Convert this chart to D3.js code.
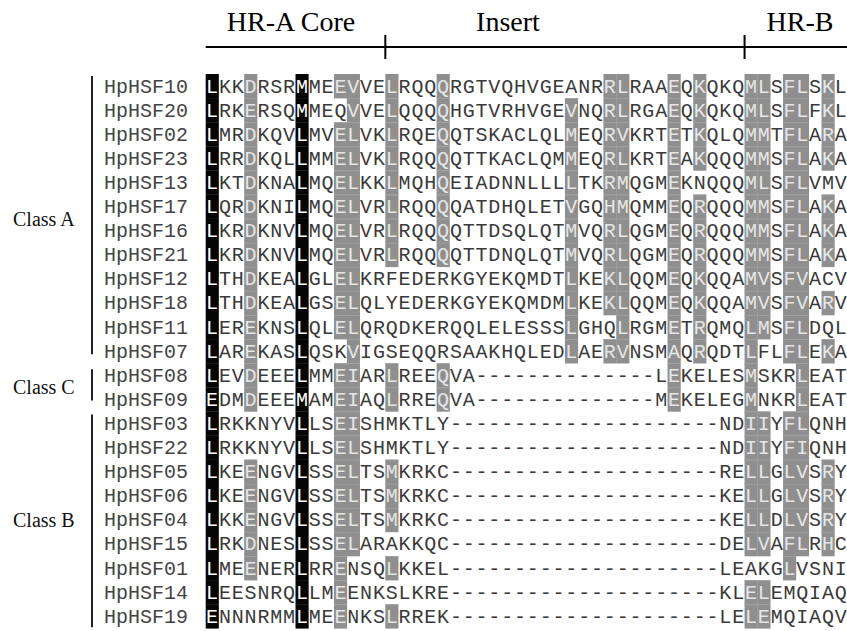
<!DOCTYPE html>
<html>
<head>
<meta charset="utf-8">
<script src="https://cdn.jsdelivr.net/npm/d3@7"></script>
<style>
  html, body { margin: 0; padding: 0; background: #fff; }
  svg { display: block; }
</style>
</head>
<body>
<svg id="chart" width="847" height="631"></svg>
<script>
// HSF sequence names, top to bottom
const names = [
  "HpHSF10","HpHSF20","HpHSF02","HpHSF23","HpHSF13","HpHSF17","HpHSF16","HpHSF21",
  "HpHSF12","HpHSF18","HpHSF11","HpHSF07",
  "HpHSF08","HpHSF09",
  "HpHSF03","HpHSF22","HpHSF05","HpHSF06","HpHSF04","HpHSF15","HpHSF01","HpHSF14","HpHSF19"
];

// Aligned residues (50 alignment columns each)
const sequences = [
  "LKKDRSRMMEEVVELRQQQRGTVQHVGEANRRLRAAEQKQKQMLSFLSKL",
  "LRKERSQMMEQVVELQQQQHGTVRHVGEVNQRLRGAEQKQKQMLSFLFKL",
  "LMRDKQVLMVELVKLRQEQQTSKACLQLMEQRVKRTETKQLQMMTFLARA",
  "LRRDKQLLMMELVKLRQQQQTTKACLQMMEQRLKRTEAKQQQMMSFLAKA",
  "LKTDKNALMQELKKLMQHQEIADNNLLLLTKRMQGMEKNQQQMLSFLVMV",
  "LQRDKNILMQELVRLRQQQQATDHQLETVGQHMQMMEQRQQQMMSFLAKA",
  "LKRDKNVLMQELVRLRQQQQTTDSQLQTMVQRLQGMEQRQQQMMSFLAKA",
  "LKRDKNVLMQELVRLRQQQQTTDNQLQTMVQRLQGMEQRQQQMMSFLAKA",
  "LTHDKEALGLELKRFEDERKGYEKQMDTLKEKLQQMEQKQQAMVSFVACV",
  "LTHDKEALGSELQLYEDERKGYEKQMDMLKEKLQQMEQKQQAMVSFVARV",
  "LEREKNSLQLELQRQDKERQQLELESSSLGHQLRGMETRQMQLMSFLDQL",
  "LAREKASLQSKVIGSEQQRSAAKHQLEDLAERVNSMAQRQDTLFLFLEKA",
  "LEVDEEELMMEIARLREEQVA--------------LEKELESMSKRLEAT",
  "EDMDEEEMAMEIAQLRREQVA--------------MEKELEGMNKRLEAT",
  "LRKKNYVLLSEISHMKTLY---------------------NDIIYFLQNH",
  "LRKKNYVLLSELSHMKTLY---------------------NDIIYFIQNH",
  "LKEENGVLSSELTSMKRKC---------------------RELLGLVSRY",
  "LKEENGVLSSELTSMKRKC---------------------KELLGLVSRY",
  "LKKENGVLSSELTSMKRKC---------------------KELLDLVSRY",
  "LRKDNESLSSELARAKKQC---------------------DELVAFLRHC",
  "LMEENERLRRENSQLKKEL---------------------LEAKGLVSNI",
  "LEESNRQLLMEENKSLKRE---------------------KLELEMQIAQ",
  "ENNNRMMLMEENKSLRREK---------------------LELEMQIAQV"
];

// Fully conserved alignment columns (black background)
const blackColumns = [1, 8];

// Per-sequence similarity columns (grey background)
const greyColumns = [
  [4,11,12,15,19,32,33,37,39,43,44,46,47,49],
  [4,12,15,19,29,32,33,37,39,43,44,46,47,49],
  [4,11,12,15,19,29,32,33,37,39,43,44,46,47,49],
  [4,11,12,15,19,29,32,33,37,39,43,44,46,47,49],
  [4,11,12,15,19,29,32,33,37,43,44,46,47],
  [4,11,12,15,19,29,32,33,37,39,43,44,46,47,49],
  [4,11,12,15,19,29,32,33,37,39,43,44,46,47,49],
  [4,11,12,15,19,29,32,33,37,39,43,44,46,47,49],
  [4,11,12,29,32,33,37,39,43,44,46,47],
  [4,11,12,29,32,33,37,39,43,44,46,47,49],
  [4,11,12,29,33,37,39,43,44,46,47],
  [4,12,29,32,33,37,39,43,46,47,49],
  [4,11,12,15,19,37,43,47],
  [4,11,12,15,19,37,43,47],
  [11,12,43,44,46,47],
  [11,12,43,44,46,47],
  [4,11,12,15,43,44,46,47,49],
  [4,11,12,15,43,44,46,47,49],
  [4,11,12,15,43,44,46,47,49],
  [4,11,12,43,44,46,47,49],
  [4,11,15,46],
  [11,43,44],
  [11,15,43,44]
];

// Subfamily groups: first and last member
const classes = [
  { label: "Class A", first: "HpHSF10", last: "HpHSF07" },
  { label: "Class C", first: "HpHSF08", last: "HpHSF09" },
  { label: "Class B", first: "HpHSF03", last: "HpHSF19" }
];

// Domain regions along the alignment (start column, label)
const regionLabels = ["HR-A Core", "Insert", "HR-B"];
const regionStarts = [1, 15, 43];

const nCols = 50;
const svg = d3.select("#chart");

const x = d3.scaleBand()
  .domain(d3.range(1, nCols + 1))
  .range([205.7, 205.7 + nCols * 12.83])
  .paddingInner(0).paddingOuter(0);

const y = d3.scaleBand()
  .domain(names)
  .range([74, 74 + names.length * 24.1])
  .padding(0);

const cw = x.bandwidth();
const rh = y.bandwidth();

// Build one record per cell
const cells = [];
names.forEach((name, i) => {
  const seq = sequences[i];
  const grey = new Set(greyColumns[i]);
  for (let c = 1; c <= nCols; c++) {
    const shade = blackColumns.includes(c) ? "black" : (grey.has(c) ? "grey" : "none");
    cells.push({ name, col: c, res: seq[c - 1], shade });
  }
});

// Background shading
svg.append("g").selectAll("rect")
  .data(cells.filter(d => d.shade !== "none"))
  .join("rect")
  .attr("x", d => x(d.col))
  .attr("y", d => y(d.name))
  .attr("width", cw + 0.3)
  .attr("height", rh + 0.3)
  .attr("fill", d => d.shade === "black" ? "#050505" : "#8f8f8f");

// Faint separators within shaded blocks
svg.append("g").selectAll("line")
  .data(cells.filter(d => d.shade === "grey" && d.name !== names[0]))
  .join("line")
  .attr("x1", d => x(d.col)).attr("x2", d => x(d.col) + cw)
  .attr("y1", d => y(d.name) + 0.5).attr("y2", d => y(d.name) + 0.5)
  .attr("stroke", "#a3a3a3").attr("stroke-width", 0.8);

// Residues
svg.append("g")
  .attr("font-family", "'Liberation Mono', 'DejaVu Sans Mono', monospace")
  .attr("font-size", 20)
  .selectAll("text")
  .data(cells)
  .join("text")
  .attr("x", d => x(d.col) + cw / 2)
  .attr("y", d => y(d.name) + rh / 2 + 6.5)
  .attr("text-anchor", "middle")
  .attr("fill", d => d.shade === "black" ? "#ffffff" : (d.shade === "grey" ? "#e6e6e6" : "#3a3a3a"))
  .text(d => d.res);

// Sequence names
svg.append("g")
  .attr("font-family", "'Liberation Mono', 'DejaVu Sans Mono', monospace")
  .attr("font-size", 20)
  .attr("fill", "#444")
  .selectAll("text")
  .data(names)
  .join("text")
  .attr("x", 104)
  .attr("y", d => y(d) + rh / 2 + 6.5)
  .text(d => d);

// Class brackets and labels
const bracketInset = { "Class A": [2, 9], "Class C": [6, 11], "Class B": [3, 1] };
const gClass = svg.append("g");
classes.forEach(cl => {
  const top = y(cl.first) + bracketInset[cl.label][0];
  const bottom = y(cl.last) + rh - bracketInset[cl.label][1];
  gClass.append("line")
    .attr("x1", 92).attr("x2", 92)
    .attr("y1", top).attr("y2", bottom)
    .attr("stroke", "#222").attr("stroke-width", 2);
  gClass.append("text")
    .attr("x", 13)
    .attr("y", (y(cl.first) + y(cl.last) + rh) / 2 + 7)
    .attr("font-family", "'Liberation Serif', 'Times New Roman', serif")
    .attr("font-size", 20)
    .attr("fill", "#111")
    .text(cl.label);
});

// Domain header: line with region ticks
const header = svg.append("g");
header.append("line")
  .attr("x1", x(1)).attr("x2", 847)
  .attr("y1", 47).attr("y2", 47)
  .attr("stroke", "#000").attr("stroke-width", 2.2);
regionStarts.slice(1).forEach(c => {
  header.append("line")
    .attr("x1", x(c)).attr("x2", x(c))
    .attr("y1", 35).attr("y2", 59)
    .attr("stroke", "#000").attr("stroke-width", 2);
});
const labelCenters = [291, 508, 800];
regionLabels.forEach((t, i) => {
  header.append("text")
    .attr("x", labelCenters[i])
    .attr("y", 31)
    .attr("text-anchor", "middle")
    .attr("font-family", "'Liberation Serif', 'Times New Roman', serif")
    .attr("font-size", 28)
    .attr("fill", "#000")
    .text(t);
});
</script>
</body>
</html>
